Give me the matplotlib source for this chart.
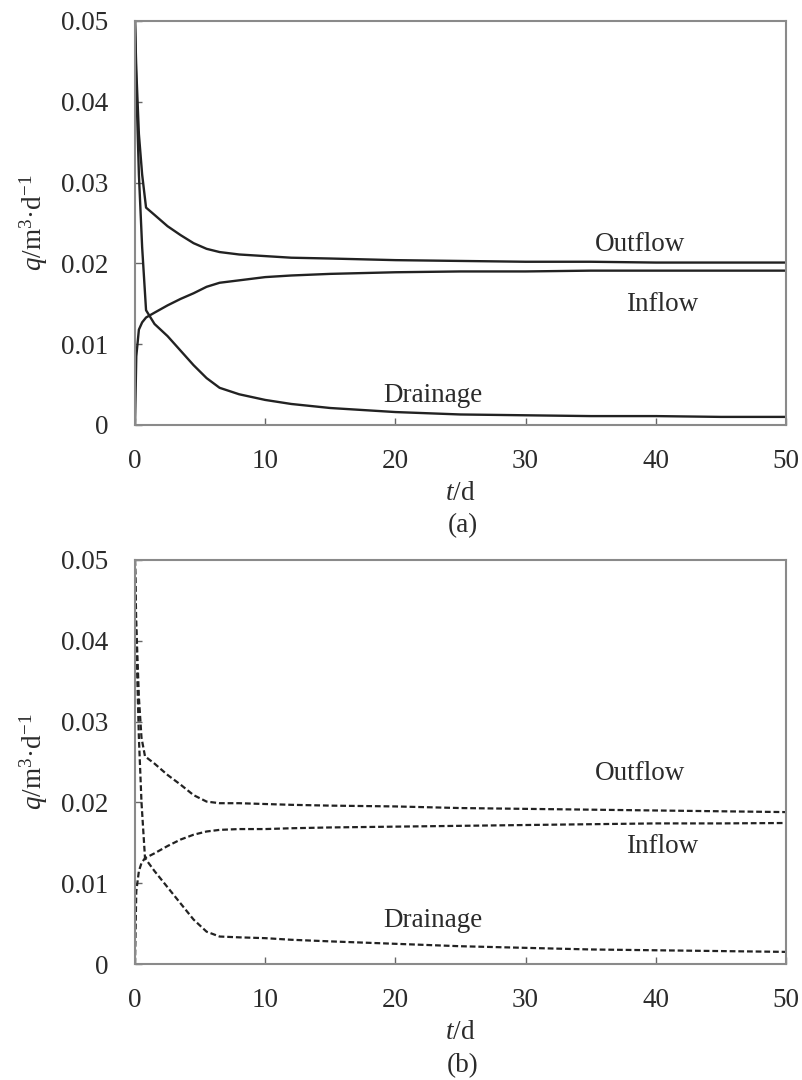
import matplotlib
matplotlib.use("Agg")
import matplotlib.pyplot as plt

plt.rcParams["font.family"] = ["Liberation Serif", "DejaVu Serif"]
plt.rcParams["mathtext.fontset"] = "custom"
plt.rcParams["mathtext.rm"] = "Liberation Serif"
plt.rcParams["mathtext.it"] = "Liberation Serif:italic"

# ---- data: panel (a) ----
t_a = [0, 0.1, 0.3, 0.55, 0.85, 1.5, 2.5, 3.5, 4.5, 5.5, 6.5, 8, 10, 12, 15,
       20, 25, 30, 35, 40, 45, 50]
outflow_a = [0.0500, 0.0440, 0.0360, 0.0310, 0.0269, 0.0260, 0.0246, 0.0235,
             0.0225, 0.0218, 0.0214, 0.0211, 0.0209, 0.0207, 0.0206, 0.0204,
             0.0203, 0.0202, 0.0202, 0.0201, 0.0201, 0.0201]
inflow_a = [0.0, 0.0085, 0.0118, 0.0127, 0.0133, 0.0139, 0.0148, 0.0156,
            0.0163, 0.0171, 0.0176, 0.0179, 0.0183, 0.0185, 0.0187, 0.0189,
            0.0190, 0.0190, 0.0191, 0.0191, 0.0191, 0.0191]
drainage_a = [0.0500, 0.0420, 0.0310, 0.0220, 0.0142, 0.0125, 0.0110, 0.0092,
              0.0074, 0.0058, 0.0046, 0.0038, 0.0031, 0.0026, 0.0021, 0.0016,
              0.0013, 0.0012, 0.0011, 0.0011, 0.0010, 0.0010]

# ---- data: panel (b) ----
t_b = [0, 0.1, 0.3, 0.5, 0.77, 1.5, 2.5, 3.5, 4.5, 5.5, 6.5, 8, 10, 12, 15,
       20, 25, 30, 35, 40, 45, 50]
outflow_b = [0.0500, 0.0420, 0.0330, 0.0280, 0.0257, 0.0248, 0.0234, 0.0222,
             0.0209, 0.0201, 0.0199, 0.0199, 0.0198, 0.0197, 0.0196, 0.0195,
             0.0193, 0.0192, 0.0191, 0.0190, 0.0189, 0.0188]
inflow_b = [0.0, 0.0090, 0.0115, 0.0125, 0.0131, 0.0137, 0.0146, 0.0154,
            0.0160, 0.0164, 0.0166, 0.0167, 0.0167, 0.0168, 0.0169, 0.0170,
            0.0171, 0.0172, 0.0173, 0.0174, 0.0174, 0.01745]
drainage_b = [0.0500, 0.0400, 0.0280, 0.0200, 0.0131, 0.0115, 0.0095, 0.0075,
              0.0055, 0.0040, 0.0034, 0.0033, 0.0032, 0.0030, 0.0028, 0.0025,
              0.0022, 0.0020, 0.0018, 0.0017, 0.0016, 0.0015]

x_ticks = [0, 10, 20, 30, 40, 50]
y_ticks = [0, 0.01, 0.02, 0.03, 0.04, 0.05]
y_tick_labels = ["0", "0.01", "0.02", "0.03", "0.04", "0.05"]
series_names = ["Outflow", "Inflow", "Drainage"]
label_pos_a = [(38.8, 0.0223), (40.5, 0.01485), (22.9, 0.0037)]
label_pos_b = [(38.8, 0.0236), (40.5, 0.0145), (22.9, 0.0054)]

FS = 19.5
TXT = "#2b2b2b"
LINE = "#222222"
SPINE = "#8a8a8a"

fig = plt.figure(figsize=(8.03, 10.8), dpi=100)
ax_a = fig.add_axes([0.1681, 0.6065, 0.8107, 0.3741])
ax_b = fig.add_axes([0.1681, 0.1074, 0.8107, 0.3741])


def style(ax):
    ax.set_xlim(0, 50)
    ax.set_ylim(0, 0.05)
    ax.set_xticks(x_ticks)
    ax.set_xticklabels([str(v) for v in x_ticks])
    ax.set_yticks(y_ticks)
    ax.set_yticklabels(y_tick_labels)
    ax.tick_params(direction="in", length=5, width=1, color="#666666",
                   labelsize=FS, labelcolor=TXT)
    ax.tick_params(axis="y", pad=19)
    ax.tick_params(axis="x", pad=17)
    for s in ax.spines.values():
        s.set_color(SPINE)
        s.set_linewidth(1.5)
    ax.set_xlabel(r"$\mathit{t}$/d", fontsize=FS, color=TXT, labelpad=5)
    ax.set_ylabel(r"$\mathit{q}$/m$^{3}$·d$^{-1}$", fontsize=FS, color=TXT,
                  labelpad=8)


dash = (0, (2.6, 1.3))
ax_a.plot(t_a, outflow_a, color=LINE, lw=1.7)
ax_a.plot(t_a, inflow_a, color=LINE, lw=1.7)
ax_a.plot(t_a, drainage_a, color=LINE, lw=1.7)
ax_b.plot(t_b, outflow_b, color=LINE, lw=1.6, linestyle=dash)
ax_b.plot(t_b, inflow_b, color=LINE, lw=1.6, linestyle=dash)
ax_b.plot(t_b, drainage_b, color=LINE, lw=1.6, linestyle=dash)

for ax, positions in ((ax_a, label_pos_a), (ax_b, label_pos_b)):
    style(ax)
    for name, (x, y) in zip(series_names, positions):
        ax.text(x, y, name, fontsize=FS, color=TXT, ha="center", va="center")

fig.text(463 / 803, 1 - 526 / 1080, "(a)", fontsize=FS, color=TXT,
         ha="center", va="center")
fig.text(463 / 803, 1 - 1066 / 1080, "(b)", fontsize=FS, color=TXT,
         ha="center", va="center")

fig.savefig("out.png", dpi=100, facecolor="white")
